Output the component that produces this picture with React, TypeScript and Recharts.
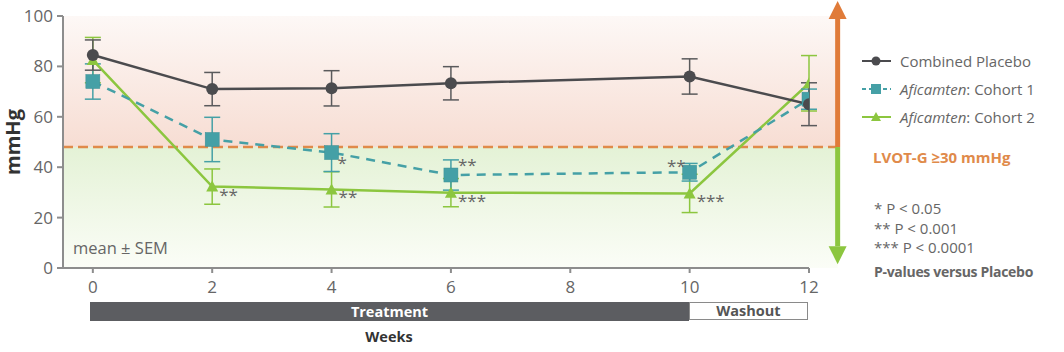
import React from 'react';
import {
  ComposedChart, Line, XAxis, YAxis, ErrorBar, ReferenceArea, ReferenceLine, LabelList,
} from 'recharts';

if (typeof document !== 'undefined') {
  document.body.style.margin = '0';
}

const weeks = [0, 2, 4, 6, 10, 12];
const xTicks = [0, 2, 4, 6, 8, 10, 12];
const yTicks = [0, 20, 40, 60, 80, 100];
const placebo = [84.5, 71, 71.3, 73.3, 76, 65];
const placeboErr = [6, 6.6, 7, 6.6, 7, 8.5];
const cohort1 = [74, 51, 45.8, 36.9, 38, 67];
const cohort1Err = [7, 8.8, 7.5, 6, 3.5, 4];
const cohort2 = [82.5, 32.3, 31.2, 29.9, 29.6, 73.3];
const cohort2Err = [9, 7, 7, 5.6, 7.6, 11];
const cohort1Sig = ['', '', '*', '**', '**', ''];
const cohort2Sig = ['', '**', '**', '***', '***', ''];
const threshold = 48;
const seriesNames = ['Combined Placebo', 'Aficamten: Cohort 1', 'Aficamten: Cohort 2'];
const pLegend = ['* P < 0.05', '** P < 0.001', '*** P < 0.0001'];

const data = weeks.map((w, i) => ({
  week: w,
  placebo: placebo[i],
  placeboErr: placeboErr[i],
  c1: cohort1[i],
  c1Err: cohort1Err[i],
  c1Sig: cohort1Sig[i],
  c2: cohort2[i],
  c2Err: cohort2Err[i],
  c2Sig: cohort2Sig[i],
}));

const C_PLACEBO = '#4b4b4e';
const C_C1 = '#45a0a6';
const C_C2 = '#8cc63f';
const C_ORANGE = '#e08a4a';
const FONT = '"Open Sans", sans-serif';

const SquareDot = (props: any) => {
  const { cx, cy } = props;
  if (cx == null || cy == null) return <g />;
  return <rect x={cx - 7} y={cy - 7} width={14} height={14} fill={C_C1} stroke="#3d8f95" strokeWidth={0.5} />;
};
const TriDot = (props: any) => {
  const { cx, cy } = props;
  if (cx == null || cy == null) return <g />;
  return <polygon points={`${cx},${cy - 6} ${cx + 6},${cy + 5} ${cx - 6},${cy + 5}`} fill={C_C2} />;
};
const CircleDot = (props: any) => {
  const { cx, cy } = props;
  if (cx == null || cy == null) return <g />;
  return <circle cx={cx} cy={cy} r={6} fill={C_PLACEBO} />;
};

const makeSig = (series: string) => (props: any) => {
  const { x, y, value, index } = props;
  if (!value) return null;
  let dx = 7;
  let dy = 14;
  let anchor = 'start';
  if (series === 'c1' && weeks[index] === 6) { dy = -4; }
  if (series === 'c1' && weeks[index] === 10) { dx = -4; dy = 0; anchor = 'end'; }
  if (series === 'c1' && weeks[index] === 4) { dy = 16; dx = 6; }
  return (
    <text x={x + dx} y={y + dy} fontSize={17} fill="#666" fontFamily={FONT} textAnchor={anchor}>
      {value}
    </text>
  );
};

const Arrow = (color: string, up: boolean) => (props: any) => {
  const { x1, y1, x2, y2 } = props;
  const tipY = y2;
  const head = 18;
  const baseY = up ? tipY + head : tipY - head;
  return (
    <g>
      <line x1={x1} y1={y1} x2={x2} y2={baseY} stroke={color} strokeWidth={5} />
      <polygon points={`${x2},${tipY} ${x2 + 9},${baseY} ${x2 - 9},${baseY}`} fill={color} />
    </g>
  );
};

const LegendBlock = () => {
  const rows = [
    { color: C_PLACEBO, dash: undefined, marker: 'circle' },
    { color: C_C1, dash: '4 3', marker: 'square' },
    { color: C_C2, dash: undefined, marker: 'tri' },
  ];
  return (
    <div style={{ position: 'absolute', left: 860, top: 47, fontFamily: FONT, fontSize: 15, color: '#666', whiteSpace: 'nowrap' }}>
      {rows.map((r, i) => {
        const parts = seriesNames[i].split(': ');
        return (
          <div key={i} style={{ display: 'flex', alignItems: 'center', height: 28 }}>
            <svg width={40} height={14}>
              <line x1={2} y1={7} x2={31} y2={7} stroke={r.color} strokeWidth={2} strokeDasharray={r.dash} />
              {r.marker === 'circle' && <circle cx={16} cy={7} r={4.5} fill={r.color} />}
              {r.marker === 'square' && <rect x={11} y={2} width={10} height={10} fill={r.color} />}
              {r.marker === 'tri' && <polygon points="16,2 21,11 11,11" fill={r.color} />}
            </svg>
            {parts.length > 1 ? (
              <span><i>{parts[0]}</i>: {parts[1]}</span>
            ) : (
              <span>{parts[0]}</span>
            )}
          </div>
        );
      })}
    </div>
  );
};

export default function App() {
  return (
    <div style={{ position: 'relative', width: 1064, height: 352, fontFamily: FONT, background: '#fff' }}>
      <ComposedChart
        width={1064}
        height={352}
        data={data}
        margin={{ top: 16, right: 255, bottom: 54, left: 13 }}
        style={{ fontFamily: FONT }}
      >
        <defs>
          <linearGradient id="pinkGrad" x1="0" y1="0" x2="0" y2="1">
            <stop offset="0%" stopColor="#fdf8f6" />
            <stop offset="100%" stopColor="#f7ddd3" />
          </linearGradient>
          <linearGradient id="greenGrad" x1="0" y1="0" x2="0" y2="1">
            <stop offset="0%" stopColor="#e4f2d6" />
            <stop offset="100%" stopColor="#fbfdf7" />
          </linearGradient>
        </defs>
        <ReferenceArea x1={-0.5} x2={12.48} y1={threshold} y2={100} fill="url(#pinkGrad)" fillOpacity={1} ifOverflow="visible" stroke="none" />
        <ReferenceArea x1={-0.5} x2={12.48} y1={0} y2={threshold} fill="url(#greenGrad)" fillOpacity={1} ifOverflow="visible" stroke="none" />
        <XAxis
          dataKey="week"
          type="number"
          domain={[-0.5, 12]}
          ticks={xTicks}
          allowDataOverflow
          height={30}
          tickSize={5}
          tickMargin={8}
          axisLine={{ stroke: '#8d8d8d', strokeWidth: 2 }}
          tickLine={{ stroke: '#8d8d8d', strokeWidth: 2 }}
          tick={{ fill: '#666', fontSize: 17, fontFamily: FONT }}
        />
        <YAxis
          type="number"
          domain={[0, 100]}
          ticks={yTicks}
          width={50}
          tickSize={6}
          tickMargin={4}
          axisLine={{ stroke: '#8d8d8d', strokeWidth: 2 }}
          tickLine={{ stroke: '#8d8d8d', strokeWidth: 2 }}
          tick={{ fill: '#666', fontSize: 17, fontFamily: FONT }}
          label={{ value: 'mmHg', angle: -90, position: 'insideLeft', offset: 0, style: { fill: '#333', fontWeight: 700, fontSize: 20, fontFamily: FONT, textAnchor: 'middle' } }}
        />
        <ReferenceLine
          segment={[{ x: -0.5, y: threshold }, { x: 12.48, y: threshold }]}
          stroke={C_ORANGE}
          strokeWidth={2.5}
          strokeDasharray="10 5"
          ifOverflow="visible"
        />
        <ReferenceLine
          segment={[{ x: 12.48, y: threshold }, { x: 12.48, y: 106 }]}
          ifOverflow="visible"
          shape={Arrow('#e07b39', true)}
        />
        <ReferenceLine
          segment={[{ x: 12.48, y: threshold }, { x: 12.48, y: 1.5 }]}
          ifOverflow="visible"
          shape={Arrow('#8cc63f', false)}
        />
        <Line
          dataKey="c2"
          name={seriesNames[2]}
          stroke={C_C2}
          strokeWidth={2.5}
          dot={<TriDot />}
          activeDot={false}
          isAnimationActive={false}
        >
          <ErrorBar dataKey="c2Err" width={8} stroke={C_C2} strokeWidth={1.5} direction="y" />
          <LabelList dataKey="c2Sig" content={makeSig('c2')} />
        </Line>
        <Line
          dataKey="c1"
          name={seriesNames[1]}
          stroke={C_C1}
          strokeWidth={2.5}
          strokeDasharray="9 7"
          dot={<SquareDot />}
          activeDot={false}
          isAnimationActive={false}
        >
          <ErrorBar dataKey="c1Err" width={8} stroke={C_C1} strokeWidth={1.5} direction="y" />
          <LabelList dataKey="c1Sig" content={makeSig('c1')} />
        </Line>
        <Line
          dataKey="placebo"
          name={seriesNames[0]}
          stroke={C_PLACEBO}
          strokeWidth={2.5}
          dot={<CircleDot />}
          activeDot={false}
          isAnimationActive={false}
        >
          <ErrorBar dataKey="placeboErr" width={8} stroke="#5a5a5c" strokeWidth={1.5} direction="y" />
        </Line>
      </ComposedChart>

      <LegendBlock />

      <div style={{ position: 'absolute', left: 73, top: 236, fontSize: 16.5, color: '#666', whiteSpace: 'nowrap' }}>
        mean ± SEM
      </div>

      <div style={{ position: 'absolute', left: 873, top: 147, fontSize: 15, fontWeight: 700, color: C_ORANGE, whiteSpace: 'nowrap' }}>
        LVOT-G ≥30 mmHg
      </div>
      <div style={{ position: 'absolute', left: 874, top: 199, fontSize: 15, color: '#666', lineHeight: '19.5px', whiteSpace: 'nowrap' }}>
        {pLegend.map((t) => (<div key={t}>{t}</div>))}
        <div style={{ fontWeight: 700, fontSize: 14, marginTop: 4, letterSpacing: -0.3 }}>P-values versus Placebo</div>
      </div>

      <div style={{ position: 'absolute', left: 90, top: 302, width: 599, height: 19, background: '#5c5d61', color: '#fff', fontWeight: 700, fontSize: 14.5, textAlign: 'center', lineHeight: '19px' }}>
        Treatment
      </div>
      <div style={{ position: 'absolute', left: 689, top: 302, width: 117, height: 16, border: '1.5px solid #8a8a8a', background: '#fff', color: '#555', fontWeight: 700, fontSize: 14.5, textAlign: 'center', lineHeight: '16px', boxSizing: 'content-box' }}>
        Washout
      </div>
      <div style={{ position: 'absolute', left: 360, top: 327, width: 58, textAlign: 'center', fontWeight: 700, fontSize: 14.5, color: '#333' }}>
        Weeks
      </div>
    </div>
  );
}
